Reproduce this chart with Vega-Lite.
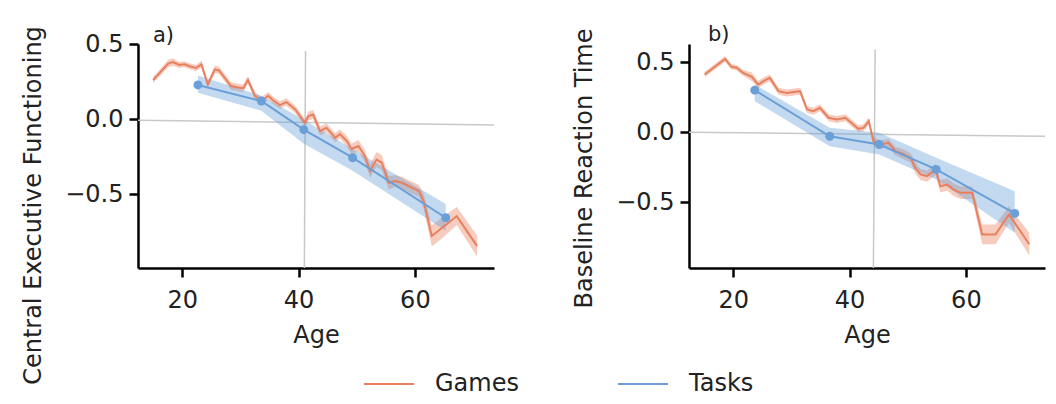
{
  "$schema": "https://vega.github.io/schema/vega-lite/v6.json",
  "padding": {"left": 21, "top": 24, "right": 5, "bottom": 2},
  "background": "white",
  "config": {
    "font": "DejaVu Sans",
    "view": {"stroke": null},
    "axis": {"domainColor": "black", "domainWidth": 2.5, "tickColor": "black", "tickWidth": 2.5, "tickSize": 9, "labelFontSize": 24, "titleFontSize": 24, "titleFontWeight": "normal", "labelColor": "#222222", "titleColor": "#222222", "grid": false, "labelFlush": false},
    "axisX": {"labelPadding": 11, "titlePadding": 11},
    "axisY": {"labelPadding": 6, "titlePadding": 19},
    "title": {"fontSize": 21, "fontWeight": "normal", "color": "#222222"},
    "legend": {"labelFontSize": 24, "labelColor": "#222222"}
  },
  "data": {"values": [
    {"panel": "a", "series": "Games", "age": 15.0, "value": 0.26, "lo": 0.24, "hi": 0.28},
    {"panel": "a", "series": "Games", "age": 17.6, "value": 0.37, "lo": 0.345, "hi": 0.395},
    {"panel": "a", "series": "Games", "age": 18.4, "value": 0.38, "lo": 0.355, "hi": 0.405},
    {"panel": "a", "series": "Games", "age": 19.5, "value": 0.36, "lo": 0.34, "hi": 0.38},
    {"panel": "a", "series": "Games", "age": 20.4, "value": 0.365, "lo": 0.345, "hi": 0.385},
    {"panel": "a", "series": "Games", "age": 21.4, "value": 0.35, "lo": 0.33, "hi": 0.37},
    {"panel": "a", "series": "Games", "age": 22.4, "value": 0.34, "lo": 0.32, "hi": 0.36},
    {"panel": "a", "series": "Games", "age": 23.3, "value": 0.365, "lo": 0.34, "hi": 0.39},
    {"panel": "a", "series": "Games", "age": 24.4, "value": 0.23, "lo": 0.21, "hi": 0.25},
    {"panel": "a", "series": "Games", "age": 25.6, "value": 0.33, "lo": 0.305, "hi": 0.355},
    {"panel": "a", "series": "Games", "age": 26.3, "value": 0.325, "lo": 0.3, "hi": 0.35},
    {"panel": "a", "series": "Games", "age": 28.4, "value": 0.22, "lo": 0.195, "hi": 0.245},
    {"panel": "a", "series": "Games", "age": 29.6, "value": 0.21, "lo": 0.185, "hi": 0.235},
    {"panel": "a", "series": "Games", "age": 30.5, "value": 0.205, "lo": 0.18, "hi": 0.23},
    {"panel": "a", "series": "Games", "age": 31.3, "value": 0.26, "lo": 0.235, "hi": 0.285},
    {"panel": "a", "series": "Games", "age": 32.5, "value": 0.155, "lo": 0.13, "hi": 0.18},
    {"panel": "a", "series": "Games", "age": 33.6, "value": 0.12, "lo": 0.095, "hi": 0.145},
    {"panel": "a", "series": "Games", "age": 34.8, "value": 0.155, "lo": 0.13, "hi": 0.18},
    {"panel": "a", "series": "Games", "age": 35.6, "value": 0.125, "lo": 0.1, "hi": 0.15},
    {"panel": "a", "series": "Games", "age": 36.8, "value": 0.093, "lo": 0.068, "hi": 0.118},
    {"panel": "a", "series": "Games", "age": 37.9, "value": 0.113, "lo": 0.088, "hi": 0.138},
    {"panel": "a", "series": "Games", "age": 39.4, "value": 0.065, "lo": 0.04, "hi": 0.09},
    {"panel": "a", "series": "Games", "age": 41.1, "value": -0.025, "lo": -0.05, "hi": 0.0},
    {"panel": "a", "series": "Games", "age": 41.7, "value": 0.02, "lo": -0.01, "hi": 0.05},
    {"panel": "a", "series": "Games", "age": 42.5, "value": 0.03, "lo": 0.0, "hi": 0.06},
    {"panel": "a", "series": "Games", "age": 43.7, "value": -0.08, "lo": -0.11, "hi": -0.05},
    {"panel": "a", "series": "Games", "age": 44.8, "value": -0.058, "lo": -0.088, "hi": -0.028},
    {"panel": "a", "series": "Games", "age": 46.3, "value": -0.125, "lo": -0.155, "hi": -0.095},
    {"panel": "a", "series": "Games", "age": 47.1, "value": -0.1, "lo": -0.13, "hi": -0.07},
    {"panel": "a", "series": "Games", "age": 48.3, "value": -0.147, "lo": -0.182, "hi": -0.112},
    {"panel": "a", "series": "Games", "age": 49.1, "value": -0.2, "lo": -0.235, "hi": -0.165},
    {"panel": "a", "series": "Games", "age": 50.3, "value": -0.18, "lo": -0.22, "hi": -0.14},
    {"panel": "a", "series": "Games", "age": 51.4, "value": -0.247, "lo": -0.287, "hi": -0.207},
    {"panel": "a", "series": "Games", "age": 52.3, "value": -0.347, "lo": -0.392, "hi": -0.302},
    {"panel": "a", "series": "Games", "age": 53.4, "value": -0.27, "lo": -0.32, "hi": -0.22},
    {"panel": "a", "series": "Games", "age": 54.3, "value": -0.29, "lo": -0.34, "hi": -0.24},
    {"panel": "a", "series": "Games", "age": 55.5, "value": -0.425, "lo": -0.47, "hi": -0.38},
    {"panel": "a", "series": "Games", "age": 56.6, "value": -0.413, "lo": -0.453, "hi": -0.373},
    {"panel": "a", "series": "Games", "age": 57.8, "value": -0.425, "lo": -0.465, "hi": -0.385},
    {"panel": "a", "series": "Games", "age": 59.5, "value": -0.458, "lo": -0.498, "hi": -0.418},
    {"panel": "a", "series": "Games", "age": 60.7, "value": -0.48, "lo": -0.52, "hi": -0.44},
    {"panel": "a", "series": "Games", "age": 61.5, "value": -0.547, "lo": -0.597, "hi": -0.497},
    {"panel": "a", "series": "Games", "age": 62.9, "value": -0.78, "lo": -0.85, "hi": -0.71},
    {"panel": "a", "series": "Games", "age": 64.7, "value": -0.725, "lo": -0.795, "hi": -0.655},
    {"panel": "a", "series": "Games", "age": 67.2, "value": -0.647, "lo": -0.707, "hi": -0.587},
    {"panel": "a", "series": "Games", "age": 70.7, "value": -0.847, "lo": -0.917, "hi": -0.777},
    {"panel": "a", "series": "Tasks", "age": 22.7, "value": 0.227, "lo": 0.175, "hi": 0.29},
    {"panel": "a", "series": "Tasks", "age": 33.6, "value": 0.12, "lo": 0.055, "hi": 0.155},
    {"panel": "a", "series": "Tasks", "age": 40.9, "value": -0.071, "lo": -0.165, "hi": -0.005},
    {"panel": "a", "series": "Tasks", "age": 49.3, "value": -0.258, "lo": -0.345, "hi": -0.2},
    {"panel": "a", "series": "Tasks", "age": 65.3, "value": -0.658, "lo": -0.745, "hi": -0.567},
    {"panel": "b", "series": "Games", "age": 15.1, "value": 0.412, "lo": 0.392, "hi": 0.432},
    {"panel": "b", "series": "Games", "age": 18.6, "value": 0.524, "lo": 0.504, "hi": 0.544},
    {"panel": "b", "series": "Games", "age": 19.7, "value": 0.467, "lo": 0.447, "hi": 0.487},
    {"panel": "b", "series": "Games", "age": 20.6, "value": 0.46, "lo": 0.44, "hi": 0.48},
    {"panel": "b", "series": "Games", "age": 21.7, "value": 0.424, "lo": 0.404, "hi": 0.444},
    {"panel": "b", "series": "Games", "age": 23.2, "value": 0.396, "lo": 0.366, "hi": 0.426},
    {"panel": "b", "series": "Games", "age": 24.3, "value": 0.34, "lo": 0.315, "hi": 0.365},
    {"panel": "b", "series": "Games", "age": 25.2, "value": 0.365, "lo": 0.34, "hi": 0.39},
    {"panel": "b", "series": "Games", "age": 26.3, "value": 0.388, "lo": 0.363, "hi": 0.413},
    {"panel": "b", "series": "Games", "age": 27.8, "value": 0.293, "lo": 0.268, "hi": 0.318},
    {"panel": "b", "series": "Games", "age": 29.2, "value": 0.28, "lo": 0.255, "hi": 0.305},
    {"panel": "b", "series": "Games", "age": 31.5, "value": 0.293, "lo": 0.268, "hi": 0.318},
    {"panel": "b", "series": "Games", "age": 32.7, "value": 0.162, "lo": 0.137, "hi": 0.187},
    {"panel": "b", "series": "Games", "age": 33.8, "value": 0.15, "lo": 0.125, "hi": 0.175},
    {"panel": "b", "series": "Games", "age": 34.9, "value": 0.174, "lo": 0.149, "hi": 0.199},
    {"panel": "b", "series": "Games", "age": 36.4, "value": 0.103, "lo": 0.078, "hi": 0.128},
    {"panel": "b", "series": "Games", "age": 37.8, "value": 0.091, "lo": 0.066, "hi": 0.116},
    {"panel": "b", "series": "Games", "age": 39.3, "value": 0.103, "lo": 0.078, "hi": 0.128},
    {"panel": "b", "series": "Games", "age": 41.5, "value": 0.024, "lo": -0.001, "hi": 0.049},
    {"panel": "b", "series": "Games", "age": 42.4, "value": 0.031, "lo": 0.006, "hi": 0.056},
    {"panel": "b", "series": "Games", "age": 43.3, "value": 0.079, "lo": 0.054, "hi": 0.104},
    {"panel": "b", "series": "Games", "age": 44.1, "value": -0.064, "lo": -0.094, "hi": -0.034},
    {"panel": "b", "series": "Games", "age": 45.3, "value": -0.088, "lo": -0.118, "hi": -0.058},
    {"panel": "b", "series": "Games", "age": 46.7, "value": -0.076, "lo": -0.106, "hi": -0.046},
    {"panel": "b", "series": "Games", "age": 47.9, "value": -0.136, "lo": -0.166, "hi": -0.106},
    {"panel": "b", "series": "Games", "age": 49.0, "value": -0.152, "lo": -0.187, "hi": -0.117},
    {"panel": "b", "series": "Games", "age": 50.5, "value": -0.183, "lo": -0.218, "hi": -0.148},
    {"panel": "b", "series": "Games", "age": 51.3, "value": -0.254, "lo": -0.294, "hi": -0.214},
    {"panel": "b", "series": "Games", "age": 52.2, "value": -0.302, "lo": -0.342, "hi": -0.262},
    {"panel": "b", "series": "Games", "age": 53.3, "value": -0.314, "lo": -0.354, "hi": -0.274},
    {"panel": "b", "series": "Games", "age": 54.8, "value": -0.266, "lo": -0.306, "hi": -0.226},
    {"panel": "b", "series": "Games", "age": 55.6, "value": -0.386, "lo": -0.431, "hi": -0.341},
    {"panel": "b", "series": "Games", "age": 56.8, "value": -0.374, "lo": -0.419, "hi": -0.329},
    {"panel": "b", "series": "Games", "age": 57.9, "value": -0.41, "lo": -0.455, "hi": -0.365},
    {"panel": "b", "series": "Games", "age": 59.1, "value": -0.433, "lo": -0.478, "hi": -0.388},
    {"panel": "b", "series": "Games", "age": 61.1, "value": -0.433, "lo": -0.478, "hi": -0.388},
    {"panel": "b", "series": "Games", "age": 62.8, "value": -0.73, "lo": -0.8, "hi": -0.66},
    {"panel": "b", "series": "Games", "age": 65.1, "value": -0.73, "lo": -0.8, "hi": -0.66},
    {"panel": "b", "series": "Games", "age": 67.4, "value": -0.588, "lo": -0.648, "hi": -0.528},
    {"panel": "b", "series": "Games", "age": 70.9, "value": -0.8, "lo": -0.88, "hi": -0.72},
    {"panel": "b", "series": "Tasks", "age": 23.7, "value": 0.3, "lo": 0.221, "hi": 0.34},
    {"panel": "b", "series": "Tasks", "age": 36.6, "value": -0.029, "lo": -0.1, "hi": 0.031},
    {"panel": "b", "series": "Tasks", "age": 45.1, "value": -0.088, "lo": -0.159, "hi": -0.004},
    {"panel": "b", "series": "Tasks", "age": 54.9, "value": -0.266, "lo": -0.338, "hi": -0.183},
    {"panel": "b", "series": "Tasks", "age": 68.4, "value": -0.58, "lo": -0.719, "hi": -0.421},
    {"panel": "a", "series": "ref", "age": 12.4, "value": -0.008, "age2": 73.6, "value2": -0.04},
    {"panel": "a", "series": "ref", "age": 41.2, "value": 0.453, "age2": 41.0, "value2": -0.993},
    {"panel": "b", "series": "ref", "age": 12.4, "value": 0.0, "age2": 73.6, "value2": -0.029},
    {"panel": "b", "series": "ref", "age": 44.4, "value": 0.59, "age2": 44.1, "value2": -0.97}
  ]},
  "spacing": 77,
  "hconcat": [
    {
      "width": 356, "height": 224,
      "title": {"text": "a)", "anchor": "start", "frame": "group", "dx": 15, "offset": -20},
      "transform": [{"filter": "datum.panel === 'a'"}],
      "encoding": {
        "x": {"field": "age", "type": "quantitative", "scale": {"domain": [12.4, 73.6], "nice": false, "zero": false}, "axis": {"values": [20, 40, 60], "title": "Age"}},
        "y": {"field": "value", "type": "quantitative", "scale": {"domain": [-0.993, 0.5], "nice": false, "zero": false}, "axis": {"values": [-0.5, 0, 0.5], "format": ".1f", "title": "Central Executive Functioning", "titleY": 161}}
      },
      "layer": [
        {"transform": [{"filter": "datum.series === 'ref'"}], "mark": {"type": "rule", "color": "#c8c8c8", "strokeWidth": 1.5}, "encoding": {"x2": {"field": "age2"}, "y2": {"field": "value2"}}},
        {"transform": [{"filter": "datum.series !== 'ref'"}], "mark": {"type": "area", "opacity": 0.4}, "encoding": {"y": {"field": "lo", "type": "quantitative", "scale": {"domain": [-0.993, 0.5], "nice": false, "zero": false}, "axis": {"values": [-0.5, 0, 0.5], "format": ".1f", "title": "Central Executive Functioning", "titleY": 161}}, "y2": {"field": "hi"}, "detail": {"field": "series"}, "color": {"condition": {"test": "datum.series === 'Games'", "value": "#e8805f"}, "value": "#6a9fd8"}}},
        {"transform": [{"filter": "datum.series !== 'ref'"}], "mark": {"type": "line", "strokeWidth": 2}, "encoding": {"color": {"field": "series", "type": "nominal", "scale": {"domain": ["Games", "Tasks"], "range": ["#e8805f", "#6a9fd8"]}, "legend": {"title": null, "orient": "none", "legendX": 225, "legendY": 314, "direction": "horizontal", "symbolType": "stroke", "symbolSize": 2500, "symbolStrokeWidth": 2, "labelOffset": 20, "columnPadding": 95}}}},
        {"transform": [{"filter": "datum.series === 'Tasks'"}], "mark": {"type": "point", "filled": true, "size": 80, "opacity": 1, "strokeWidth": 0, "color": "#6a9fd8"}, "encoding": {}}
      ]
    },
    {
      "width": 356, "height": 224,
      "title": {"text": "b)", "anchor": "start", "frame": "group", "dx": 19, "offset": -17},
      "transform": [{"filter": "datum.panel === 'b'"}],
      "encoding": {
        "x": {"field": "age", "type": "quantitative", "scale": {"domain": [12.4, 73.6], "nice": false, "zero": false}, "axis": {"values": [20, 40, 60], "title": "Age"}},
        "y": {"field": "value", "type": "quantitative", "scale": {"domain": [-0.97, 0.63], "nice": false, "zero": false}, "axis": {"values": [-0.5, 0, 0.5], "format": ".1f", "title": "Baseline Reaction Time", "titleY": 124}}
      },
      "layer": [
        {"transform": [{"filter": "datum.series === 'ref'"}], "mark": {"type": "rule", "color": "#c8c8c8", "strokeWidth": 1.5}, "encoding": {"x2": {"field": "age2"}, "y2": {"field": "value2"}}},
        {"transform": [{"filter": "datum.series !== 'ref'"}], "mark": {"type": "area", "opacity": 0.4}, "encoding": {"y": {"field": "lo", "type": "quantitative", "scale": {"domain": [-0.97, 0.63], "nice": false, "zero": false}, "axis": {"values": [-0.5, 0, 0.5], "format": ".1f", "title": "Baseline Reaction Time", "titleY": 124}}, "y2": {"field": "hi"}, "detail": {"field": "series"}, "color": {"condition": {"test": "datum.series === 'Games'", "value": "#e8805f"}, "value": "#6a9fd8"}}},
        {"transform": [{"filter": "datum.series !== 'ref'"}], "mark": {"type": "line", "strokeWidth": 2}, "encoding": {"color": {"field": "series", "type": "nominal", "scale": {"domain": ["Games", "Tasks"], "range": ["#e8805f", "#6a9fd8"]}, "legend": {"title": null, "orient": "none", "legendX": 225, "legendY": 314, "direction": "horizontal", "symbolType": "stroke", "symbolSize": 2500, "symbolStrokeWidth": 2, "labelOffset": 20, "columnPadding": 95}}}},
        {"transform": [{"filter": "datum.series === 'Tasks'"}], "mark": {"type": "point", "filled": true, "size": 80, "opacity": 1, "strokeWidth": 0, "color": "#6a9fd8"}, "encoding": {}}
      ]
    }
  ]
}
